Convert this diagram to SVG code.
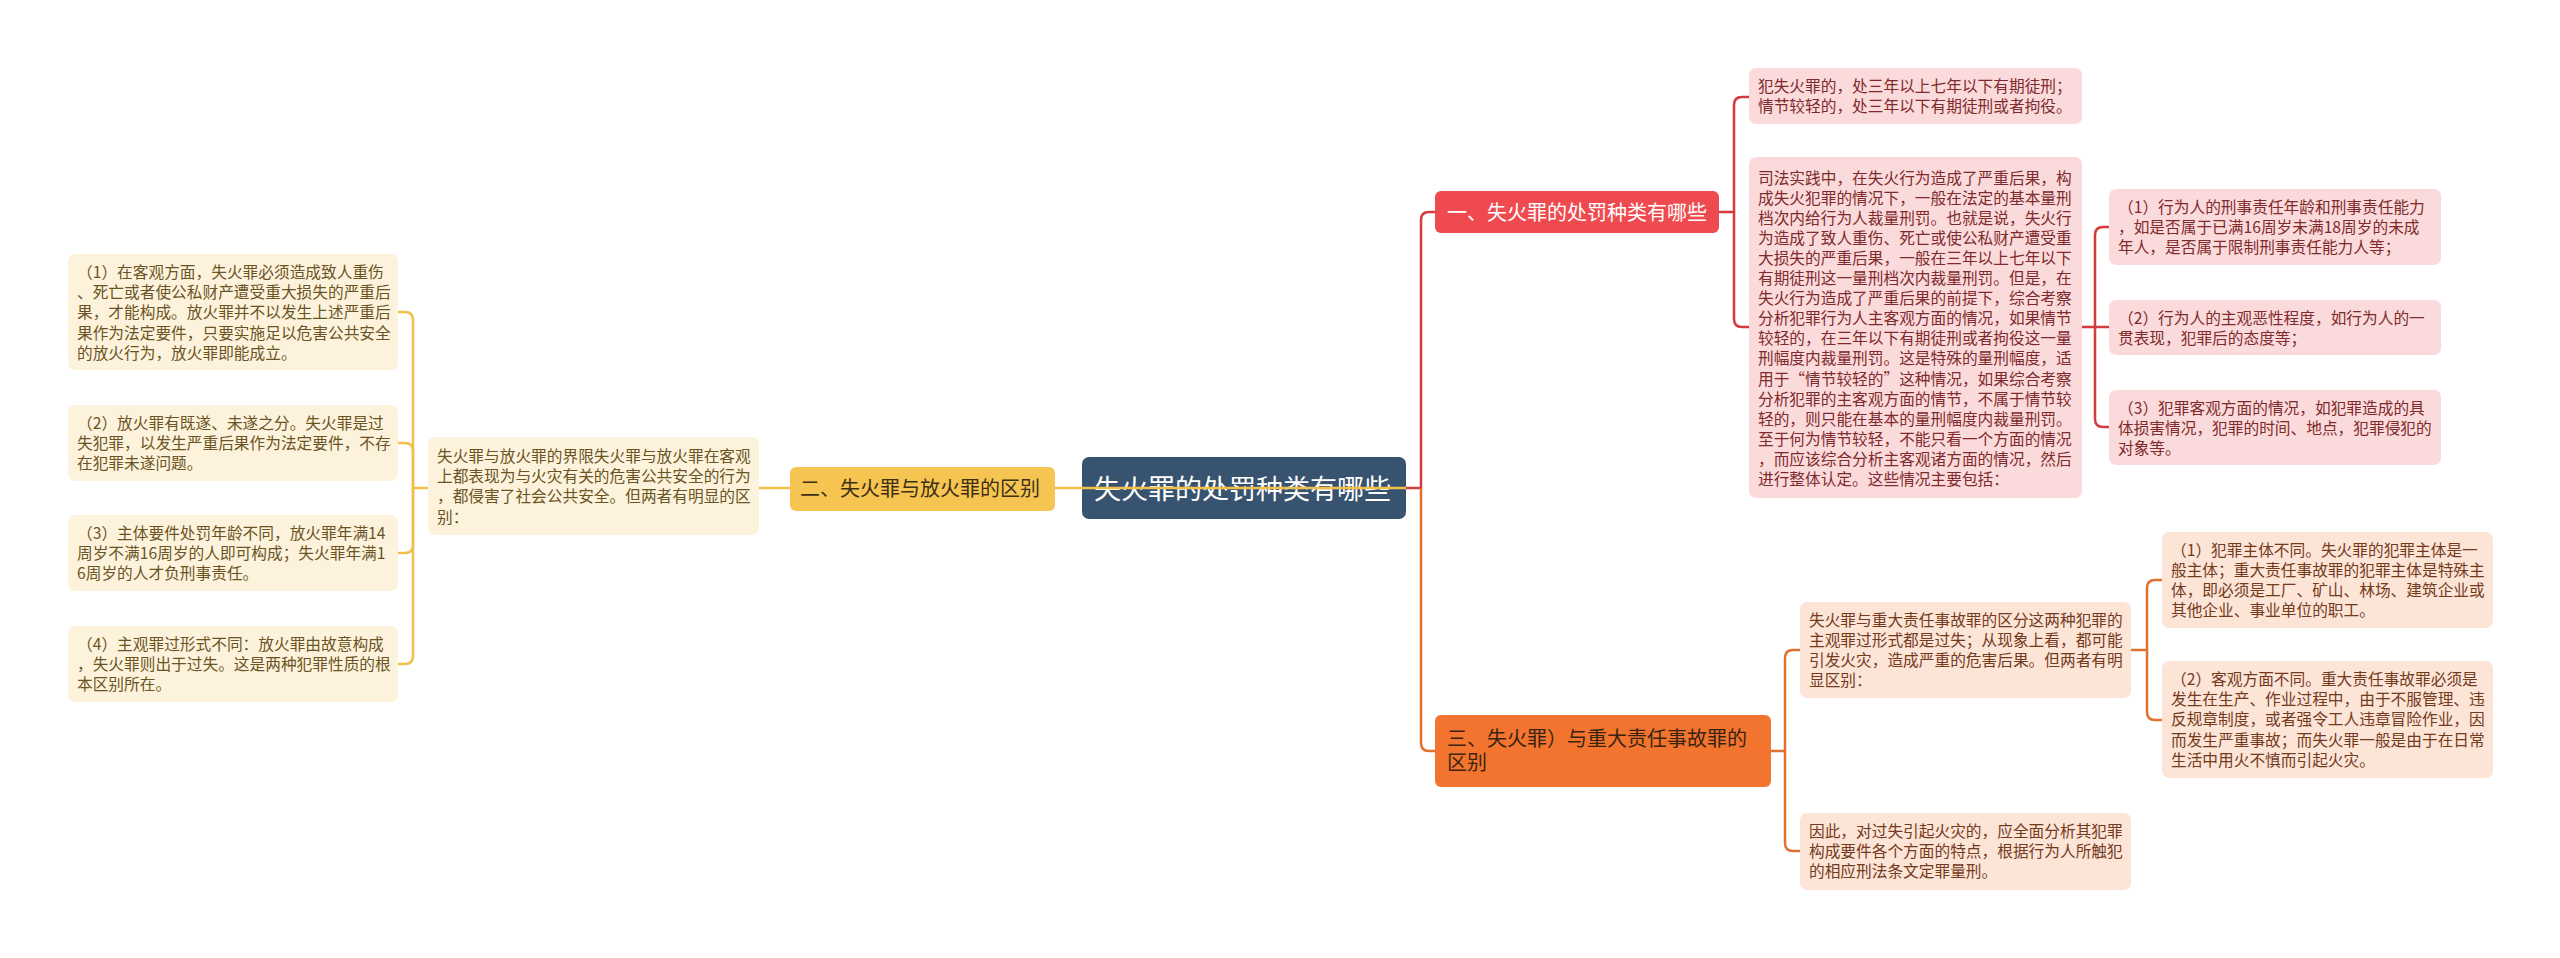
<svg xmlns="http://www.w3.org/2000/svg" width="2560" height="958" viewBox="0 0 2560 958">
<style>
text{font-family:"Noto Sans CJK SC","Microsoft YaHei",sans-serif;}
.leaf{font-size:15.7px;}
.lt{fill:#6b5424;}
.rt{fill:#7f2a2c;}
.ot{fill:#743a1c;}
.lf{fill:#fdf3dc;}
.rf{fill:#fbdadb;}
.of{fill:#fce4d7;}
.cy{fill:none;stroke:#f1c04b;stroke-width:2.5;}
.cr{fill:none;stroke:#d33b41;stroke-width:2.5;}
.co{fill:none;stroke:#e0722f;stroke-width:2.5;}
</style>
<rect width="2560" height="958" fill="#ffffff"/>

<g id="center">
<rect x="1082" y="457" width="324" height="62" rx="7" fill="#37536f"/>
<text x="1094" y="498.5" font-size="27" fill="#ffffff">失火罪的处罚种类有哪些</text>
</g>

<g id="b1">
<rect x="1435" y="191" width="284" height="42" rx="6" fill="#ef4a4f"/>
<text x="1447" y="219.5" font-size="20" fill="#ffffff">一、失火罪的处罚种类有哪些</text>
</g>
<g id="b2">
<rect x="790" y="467" width="265" height="44" rx="6" fill="#f6c451"/>
<text x="800" y="496" font-size="20" fill="#3d3016">二、失火罪与放火罪的区别</text>
</g>
<g id="b3">
<rect x="1435" y="715" width="336" height="72" rx="6" fill="#f2742f"/>
<text x="1447" y="745.5" font-size="20" fill="#3a2410">三、失火罪）与重大责任事故罪的</text>
<text x="1447" y="769.5" font-size="20" fill="#3a2410">区别</text>
</g>

<g id="lm">
<rect x="428" y="437" width="331" height="98" rx="7" class="lf"/>
<text class="leaf lt" x="437"><tspan x="437" y="462">失火罪与放火罪的界限失火罪与放火罪在客观</tspan><tspan x="437" y="482.2">上都表现为与火灾有关的危害公共安全的行为</tspan><tspan x="437" y="502.4">，都侵害了社会公共安全。但两者有明显的区</tspan><tspan x="437" y="522.6">别：</tspan></text>
</g>
<g id="l1">
<rect x="68" y="254" width="330" height="116" rx="7" class="lf"/>
<text class="leaf lt"><tspan x="77" y="278">（1）在客观方面，失火罪必须造成致人重伤</tspan><tspan x="77" y="298.2">、死亡或者使公私财产遭受重大损失的严重后</tspan><tspan x="77" y="318.4">果，才能构成。放火罪并不以发生上述严重后</tspan><tspan x="77" y="338.6">果作为法定要件，只要实施足以危害公共安全</tspan><tspan x="77" y="358.8">的放火行为，放火罪即能成立。</tspan></text>
</g>
<g id="l2">
<rect x="68" y="405" width="330" height="76" rx="7" class="lf"/>
<text class="leaf lt"><tspan x="77" y="428.5">（2）放火罪有既遂、未遂之分。失火罪是过</tspan><tspan x="77" y="448.7">失犯罪，以发生严重后果作为法定要件，不存</tspan><tspan x="77" y="468.9">在犯罪未遂问题。</tspan></text>
</g>
<g id="l3">
<rect x="68" y="515" width="330" height="76" rx="7" class="lf"/>
<text class="leaf lt"><tspan x="77" y="538.5">（3）主体要件处罚年龄不同，放火罪年满14</tspan><tspan x="77" y="558.7">周岁不满16周岁的人即可构成；失火罪年满1</tspan><tspan x="77" y="578.9">6周岁的人才负刑事责任。</tspan></text>
</g>
<g id="l4">
<rect x="68" y="626" width="330" height="76" rx="7" class="lf"/>
<text class="leaf lt"><tspan x="77" y="649.5">（4）主观罪过形式不同：放火罪由故意构成</tspan><tspan x="77" y="669.7">，失火罪则出于过失。这是两种犯罪性质的根</tspan><tspan x="77" y="689.9">本区别所在。</tspan></text>
</g>

<g id="r1">
<rect x="1749" y="68" width="333" height="56" rx="7" class="rf"/>
<text class="leaf rt"><tspan x="1758" y="92">犯失火罪的，处三年以上七年以下有期徒刑；</tspan><tspan x="1758" y="112.2">情节较轻的，处三年以下有期徒刑或者拘役。</tspan></text>
</g>
<g id="r2">
<rect x="1749" y="157" width="333" height="341" rx="7" class="rf"/>
<text class="leaf rt"><tspan x="1758" y="183.5">司法实践中，在失火行为造成了严重后果，构</tspan><tspan x="1758" y="203.6">成失火犯罪的情况下，一般在法定的基本量刑</tspan><tspan x="1758" y="223.7">档次内给行为人裁量刑罚。也就是说，失火行</tspan><tspan x="1758" y="243.8">为造成了致人重伤、死亡或使公私财产遭受重</tspan><tspan x="1758" y="263.9">大损失的严重后果，一般在三年以上七年以下</tspan><tspan x="1758" y="284">有期徒刑这一量刑档次内裁量刑罚。但是，在</tspan><tspan x="1758" y="304.1">失火行为造成了严重后果的前提下，综合考察</tspan><tspan x="1758" y="324.2">分析犯罪行为人主客观方面的情况，如果情节</tspan><tspan x="1758" y="344.3">较轻的，在三年以下有期徒刑或者拘役这一量</tspan><tspan x="1758" y="364.4">刑幅度内裁量刑罚。这是特殊的量刑幅度，适</tspan><tspan x="1758" y="384.5">用于“情节较轻的”这种情况，如果综合考察</tspan><tspan x="1758" y="404.6">分析犯罪的主客观方面的情节，不属于情节较</tspan><tspan x="1758" y="424.7">轻的，则只能在基本的量刑幅度内裁量刑罚。</tspan><tspan x="1758" y="444.8">至于何为情节较轻，不能只看一个方面的情况</tspan><tspan x="1758" y="464.9">，而应该综合分析主客观诸方面的情况，然后</tspan><tspan x="1758" y="485">进行整体认定。这些情况主要包括：</tspan></text>
</g>
<g id="r2a">
<rect x="2109" y="189" width="332" height="76" rx="7" class="rf"/>
<text class="leaf rt"><tspan x="2118" y="213">（1）行为人的刑事责任年龄和刑事责任能力</tspan><tspan x="2118" y="233.2">，如是否属于已满16周岁未满18周岁的未成</tspan><tspan x="2118" y="253.4">年人，是否属于限制刑事责任能力人等；</tspan></text>
</g>
<g id="r2b">
<rect x="2109" y="300" width="332" height="55" rx="7" class="rf"/>
<text class="leaf rt"><tspan x="2118" y="323.5">（2）行为人的主观恶性程度，如行为人的一</tspan><tspan x="2118" y="343.7">贯表现，犯罪后的态度等；</tspan></text>
</g>
<g id="r2c">
<rect x="2109" y="390" width="332" height="75" rx="7" class="rf"/>
<text class="leaf rt"><tspan x="2118" y="413.5">（3）犯罪客观方面的情况，如犯罪造成的具</tspan><tspan x="2118" y="433.7">体损害情况，犯罪的时间、地点，犯罪侵犯的</tspan><tspan x="2118" y="453.9">对象等。</tspan></text>
</g>

<g id="o1">
<rect x="1800" y="602" width="331" height="96" rx="7" class="of"/>
<text class="leaf ot"><tspan x="1809" y="625.5">失火罪与重大责任事故罪的区分这两种犯罪的</tspan><tspan x="1809" y="645.7">主观罪过形式都是过失；从现象上看，都可能</tspan><tspan x="1809" y="665.9">引发火灾，造成严重的危害后果。但两者有明</tspan><tspan x="1809" y="686.1">显区别：</tspan></text>
</g>
<g id="o2">
<rect x="1800" y="813" width="331" height="77" rx="7" class="of"/>
<text class="leaf ot"><tspan x="1809" y="837">因此，对过失引起火灾的，应全面分析其犯罪</tspan><tspan x="1809" y="857.2">构成要件各个方面的特点，根据行为人所触犯</tspan><tspan x="1809" y="877.4">的相应刑法条文定罪量刑。</tspan></text>
</g>
<g id="oa">
<rect x="2162" y="532" width="331" height="96" rx="7" class="of"/>
<text class="leaf ot"><tspan x="2171" y="555.5">（1）犯罪主体不同。失火罪的犯罪主体是一</tspan><tspan x="2171" y="575.7">般主体；重大责任事故罪的犯罪主体是特殊主</tspan><tspan x="2171" y="595.9">体，即必须是工厂、矿山、林场、建筑企业或</tspan><tspan x="2171" y="616.1">其他企业、事业单位的职工。</tspan></text>
</g>
<g id="ob">
<rect x="2162" y="661" width="331" height="117" rx="7" class="of"/>
<text class="leaf ot"><tspan x="2171" y="685">（2）客观方面不同。重大责任事故罪必须是</tspan><tspan x="2171" y="705.2">发生在生产、作业过程中，由于不服管理、违</tspan><tspan x="2171" y="725.4">反规章制度，或者强令工人违章冒险作业，因</tspan><tspan x="2171" y="745.6">而发生严重事故；而失火罪一般是由于在日常</tspan><tspan x="2171" y="765.8">生活中用火不慎而引起火灾。</tspan></text>
</g>

<g id="connectors">
<path class="cy" d="M1406,488 H1055"/>
<path class="cy" d="M790,488 H759"/>
<path class="cy" d="M428,488 H413 V320 Q413,312 405,312 H398"/>
<path class="cy" d="M413,488 V451 Q413,443 405,443 H398"/>
<path class="cy" d="M413,488 V545 Q413,553 405,553 H398"/>
<path class="cy" d="M413,488 V656 Q413,664 405,664 H398"/>
<path class="cr" d="M1406,488 H1421 V220 Q1421,212 1429,212 H1435"/>
<path class="co" d="M1421,488 V743 Q1421,751 1429,751 H1435"/>
<path class="cr" d="M1719,212 H1734 V105 Q1734,97 1742,97 H1749"/>
<path class="cr" d="M1734,212 V319 Q1734,327 1742,327 H1749"/>
<path class="cr" d="M2082,327 H2095 V235 Q2095,227 2103,227 H2109"/>
<path class="cr" d="M2095,327 H2109"/>
<path class="cr" d="M2095,327 V419 Q2095,427 2103,427 H2109"/>
<path class="co" d="M1771,751 H1785 V658 Q1785,650 1793,650 H1800"/>
<path class="co" d="M1785,751 V843 Q1785,851 1793,851 H1800"/>
<path class="co" d="M2131,650 H2147 V588 Q2147,580 2155,580 H2162"/>
<path class="co" d="M2147,650 V712 Q2147,720 2155,720 H2162"/>
</g>
</svg>
